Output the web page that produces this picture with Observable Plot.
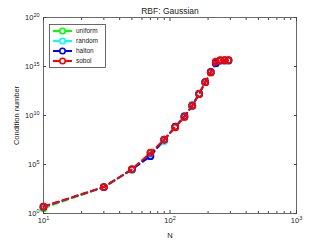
<!DOCTYPE html>
<html><head><meta charset="utf-8">
<script src="https://cdn.jsdelivr.net/npm/d3@7"></script>
<script src="https://cdn.jsdelivr.net/npm/@observablehq/plot@0.6"></script>
<style>body{margin:0;background:#fff}#chart{position:relative;width:327px;height:240px}</style>
</head><body><div id="chart"></div>
<script>
const N = [10, 30, 50, 70, 90, 110, 130, 150, 170, 190, 210, 230, 250, 270, 290];
const uniform = [3.5, 5.0e2, 3.2e4, 1.3e6, 3.2e7, 6.3e8, 7.9e9, 1.0e11, 1.6e12, 2.5e13, 2.5e14, 2.5e15, 4.2e15, 4.2e15, 4.2e15];
const random  = [4.5, 5.0e2, 2.8e4, 1.0e6, 2.5e7, 7.1e8, 8.9e9, 1.3e11, 1.8e12, 2.5e13, 2.5e14, 2.0e15, 4.0e15, 4.0e15, 4.0e15];
const halton  = [5.0, 5.0e2, 3.2e4, 7.1e5, 3.5e7, 7.1e8, 7.9e9, 1.0e11, 1.6e12, 2.5e13, 2.8e14, 2.2e15, 4.0e15, 4.2e15, 4.2e15];
const sobol   = [5.0, 5.0e2, 3.2e4, 1.6e6, 3.5e7, 6.3e8, 7.1e9, 1.0e11, 1.6e12, 2.5e13, 2.5e14, 3.2e15, 4.5e15, 4.5e15, 4.5e15];
const seriesNames = ["uniform", "random", "halton", "sobol"];
const seriesColors = ["#00ff00", "#00ffff", "#0000ff", "#ff0000"];
const yTicks = [1, 1e5, 1e10, 1e15, 1e20];
const xTicks = [10, 100, 1000];
const xMinor = [20, 30, 40, 50, 60, 70, 80, 90, 200, 300, 400, 500, 600, 700, 800, 900];
const title = "RBF: Gaussian";
const xLabel = "N";
const yLabel = "Condition number";

const seriesValues = [uniform, random, halton, sobol];
const fmt = d => "10^" + Math.round(Math.log10(d));
const axisColor = "#444";

const marks = [Plot.frame({stroke: axisColor, strokeWidth: 0.8})];
seriesValues.forEach((vals, i) => {
  const data = N.map((n, j) => ({n, v: vals[j]}));
  marks.push(Plot.line(data, {x: "n", y: "v", stroke: seriesColors[i], strokeWidth: 2, strokeDasharray: "6,4"}));
  marks.push(Plot.dot(data, {x: "n", y: "v", r: 3, stroke: seriesColors[i], strokeWidth: 1.8, fill: "none"}));
});
marks.push(
  Plot.axisY({ticks: yTicks, tickSize: 0, tickPadding: 4, tickFormat: fmt, label: yLabel, labelAnchor: "center", labelOffset: 30, labelArrow: "none", fontSize: 7.5}),
  Plot.axisY({ticks: yTicks, anchor: "left", tickSize: -3, tickFormat: () => "", label: null, stroke: axisColor}),
  Plot.axisY({ticks: yTicks, anchor: "right", tickSize: -3, tickFormat: () => "", label: null, stroke: axisColor}),
  Plot.axisX({ticks: xTicks, tickSize: 0, tickPadding: 4, tickFormat: fmt, label: xLabel, labelAnchor: "center", labelOffset: 24, labelArrow: "none"}),
  Plot.axisX({ticks: xTicks, anchor: "bottom", tickSize: -3, tickFormat: () => "", label: null, stroke: axisColor}),
  Plot.axisX({ticks: xTicks, anchor: "top", tickSize: -3, tickFormat: () => "", label: null, stroke: axisColor}),
  Plot.axisX({ticks: xMinor, anchor: "bottom", tickSize: -2, tickFormat: () => "", label: null, stroke: axisColor}),
  Plot.axisX({ticks: xMinor, anchor: "top", tickSize: -2, tickFormat: () => "", label: null, stroke: axisColor}),
  Plot.text([title], {frameAnchor: "top", dy: -4, lineAnchor: "bottom", fontSize: 8.5, fill: "#222"})
);

const chart = Plot.plot({
  width: 327, height: 240,
  marginLeft: 43, marginRight: 31, marginTop: 17, marginBottom: 27,
  x: {type: "log", domain: [10, 1000]},
  y: {type: "log", domain: [1, 1e20]},
  style: {fontFamily: "'Liberation Sans', Arial, sans-serif", fontSize: "7.5px", background: "#fff", color: "#222"},
  marks
});
document.getElementById("chart").appendChild(chart);

// superscript exponents in tick labels
d3.select(chart).selectAll("text").each(function() {
  const t = this.textContent;
  const m = /^10\^(\d+)$/.exec(t);
  if (m) {
    const sel = d3.select(this);
    sel.text("10");
    sel.append("tspan").attr("dy", "-0.45em").attr("font-size", "5.5px").text(m[1]);
  }
});

// legend
const svg = d3.select(chart);
const lg = svg.append("g").attr("font-family", "'Liberation Sans', Arial, sans-serif").attr("font-size", "6.5px").attr("text-anchor", "start");
lg.append("rect").attr("x", 49.5).attr("y", 24.5).attr("width", 56).attr("height", 43).attr("fill", "#fff").attr("stroke", axisColor).attr("stroke-width", 0.8);
seriesNames.forEach((name, i) => {
  const y = 31 + i * 10;
  lg.append("line").attr("x1", 53).attr("x2", 72).attr("y1", y).attr("y2", y).attr("stroke", seriesColors[i]).attr("stroke-width", 2);
  lg.append("circle").attr("cx", 62.5).attr("cy", y).attr("r", 2.7).attr("fill", "#fff").attr("stroke", seriesColors[i]).attr("stroke-width", 1.6);
  lg.append("text").attr("x", 76).attr("y", y + 2.3).attr("fill", "#222").attr("text-anchor", "start").text(name);
});
</script></body></html>
